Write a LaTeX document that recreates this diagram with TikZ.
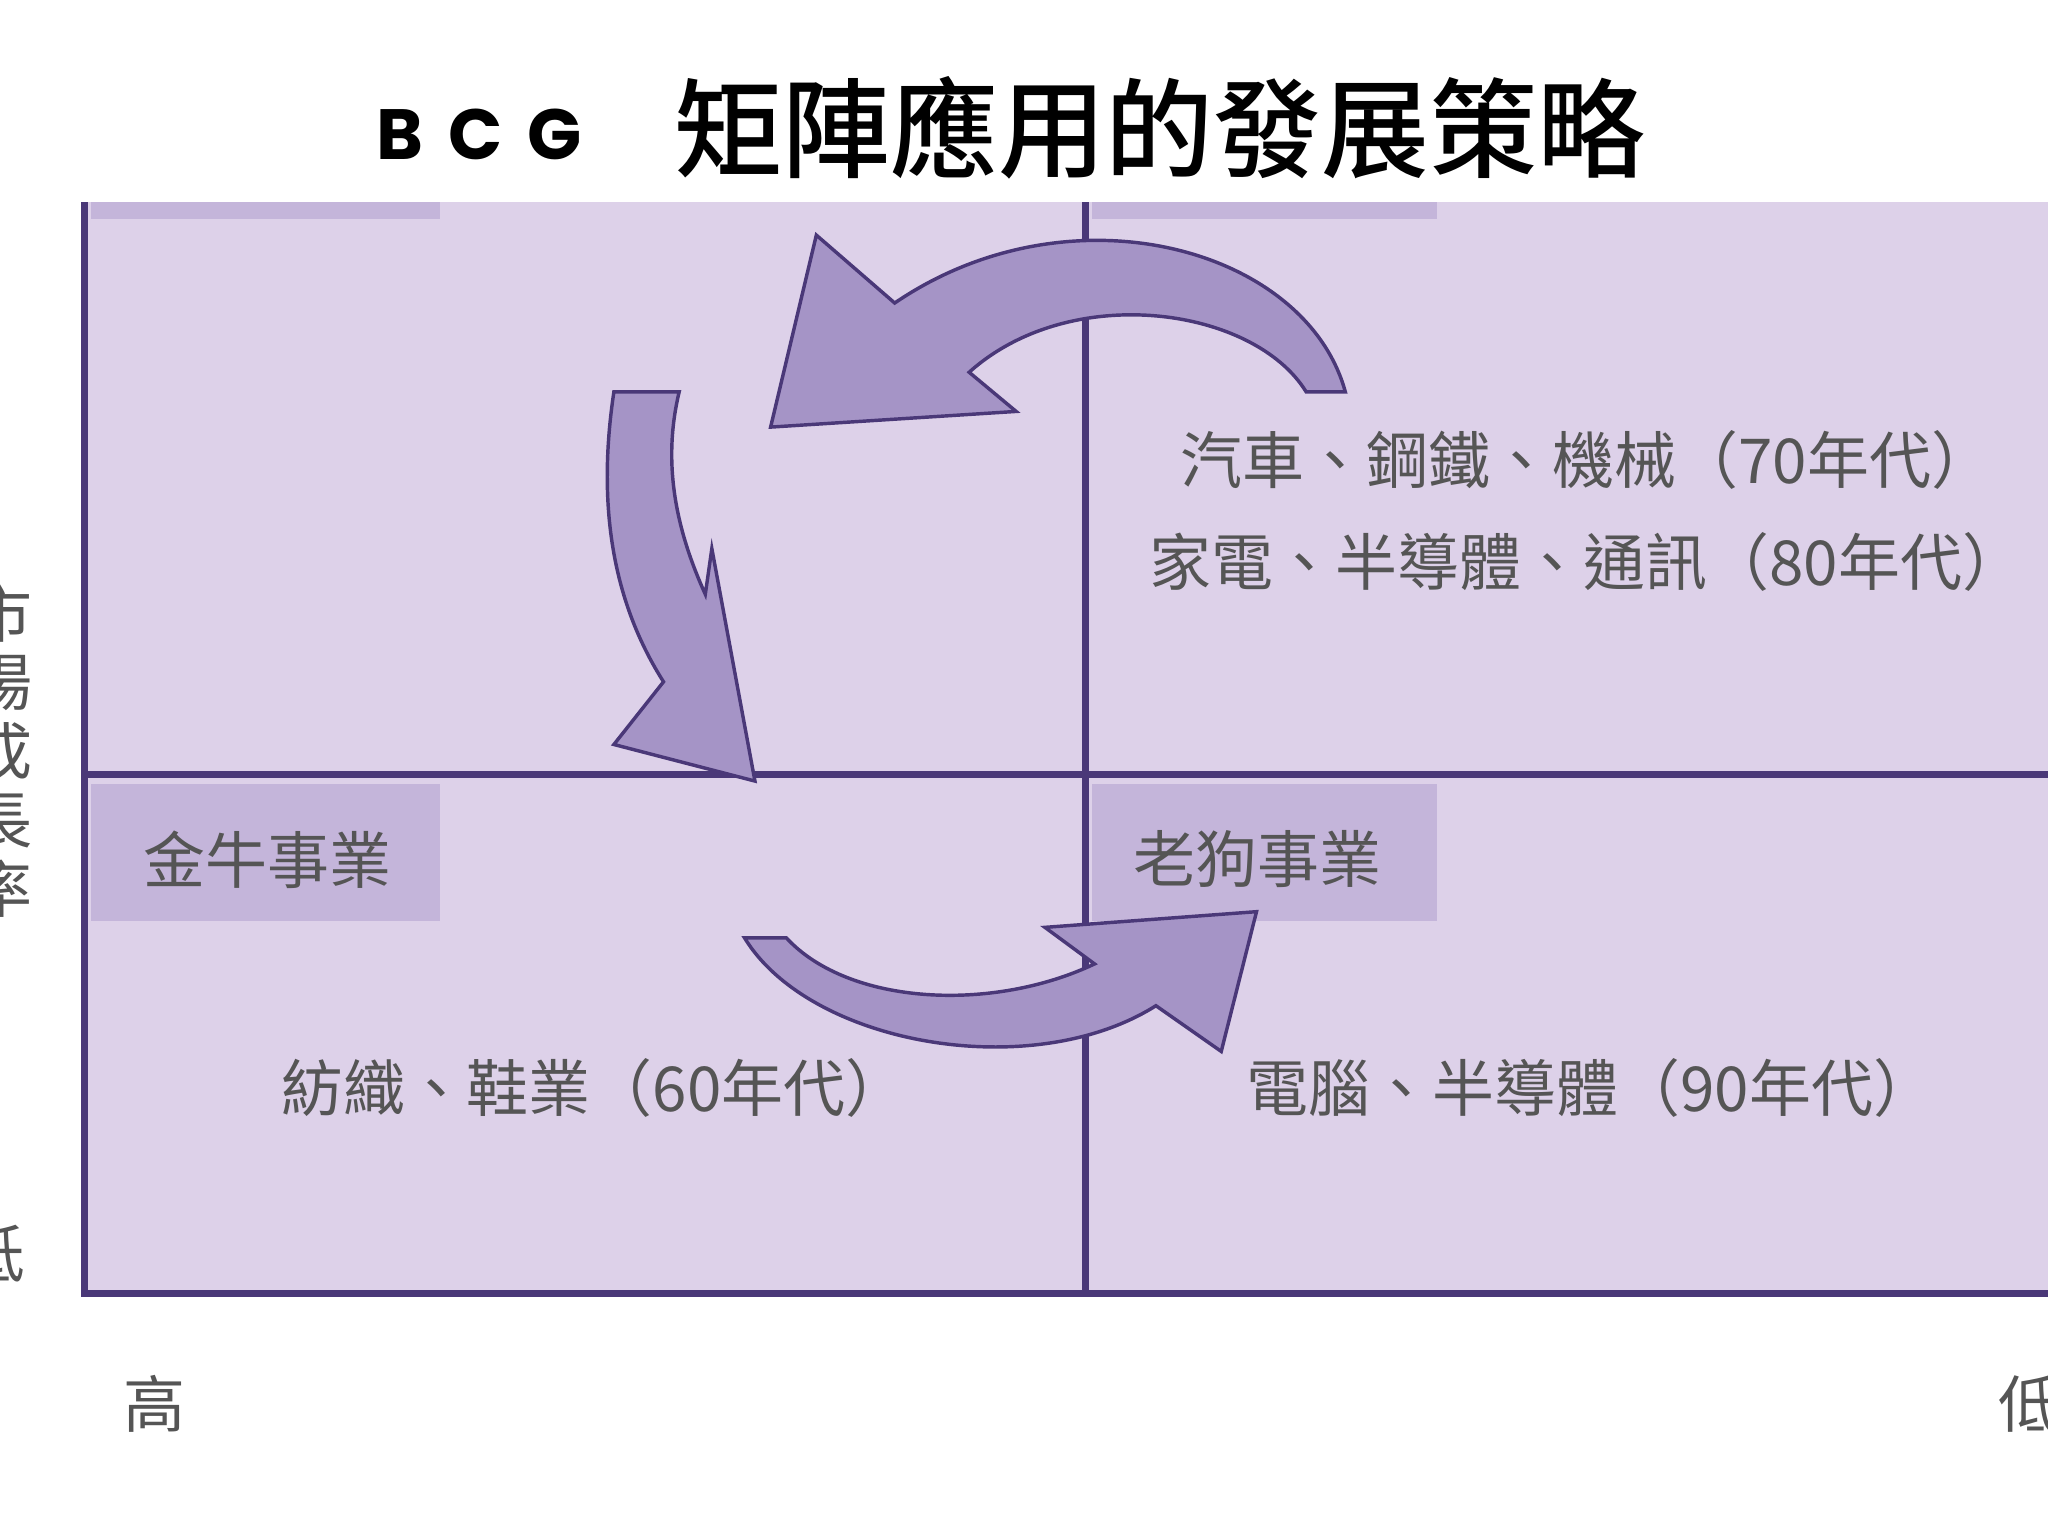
\documentclass[tikz,border=0pt]{standalone}
\usepackage{fontspec}
\newfontfamily\cjk{Noto Sans CJK TC}
\newfontfamily\cjkm{Noto Sans CJK TC Medium}
\newfontfamily\pop{Poppins}
\definecolor{bgp}{HTML}{DDD1E9}
\definecolor{boxp}{HTML}{C4B5DA}
\definecolor{linep}{HTML}{4A3878}
\definecolor{arrp}{HTML}{A594C6}
\definecolor{txt}{HTML}{555555}
\tikzset{
 lbl/.style={font=\cjk\fontsize{27}{30}\selectfont, text=txt, inner sep=0pt},
 big/.style={fill=arrp, draw=linep, line width=1.5pt, line join=miter},
 axis/.style={draw=linep, line width=3pt}
}
\begin{document}
\begin{tikzpicture}[x=0.02cm,y=-0.02cm]
\useasboundingbox (0,0) rectangle (1568,1176);
\fill[bgp] (63,155) rectangle (1568,990);
\fill[boxp] (70,155) rectangle (337,168);
\fill[boxp] (836,155) rectangle (1100,168);
\fill[boxp] (70,600) rectangle (337,705);
\fill[boxp] (836,600) rectangle (1100,705);
\draw[axis] (65,155) -- (65,990) -- (1568,990);
\draw[axis] (831,155) -- (831,990);
\draw[axis] (65,593) -- (1568,593);
% arrows
\draw[big] (1030,300) .. controls (1000,190) and (820,140) .. (685,232) -- (625,180) -- (590,327) -- (778,315) -- (742,285) .. controls (820,215) and (960,235) .. (1000,300) -- cycle;
\draw[big] (470,300) .. controls (455,400) and (475,470) .. (508,522) -- (470,570) -- (578,598) -- (545,420) -- (540,455) .. controls (515,400) and (508,350) .. (520,300) -- cycle;
\draw[big] (570,718) .. controls (620,800) and (790,830) .. (885,770) -- (935,805) -- (962,698) -- (800,710) -- (838,738) .. controls (760,775) and (650,770) .. (602,718) -- cycle;
% title
\node[inner sep=0pt, anchor=west] (bcg) at (288,103) {\pop\bfseries\fontsize{31}{36}\selectfont B\hspace{0.35em}C\hspace{0.35em}G};
\node[inner sep=0pt] (title) at (888,98) {\cjkm\fontsize{47}{50}\selectfont 矩陣應用的發展策略};
\node[lbl] (t70) at (1215,352) {汽車、鋼鐵、機械（70年代）};
\node[lbl] (t80) at (1215,430) {家電、半導體、通訊（80年代）};
\node[lbl] (t60) at (455,833) {紡織、鞋業（60年代）};
\node[lbl] (t90) at (1218,833) {電腦、半導體（90年代）};
\node[lbl] (cow) at (205,658) {金牛事業};
\node[lbl] (dog) at (963,658) {老狗事業};
\node[lbl, align=center, anchor=east] (yax) at (25,575) {市\\場\\成\\長\\率};
\node[lbl, anchor=east] (ylow) at (20,960) {低};
\node[lbl] (xhigh) at (118,1075) {高};
\node[lbl, anchor=west] (xlow) at (1530,1075) {低};
\end{tikzpicture}
\end{document}
